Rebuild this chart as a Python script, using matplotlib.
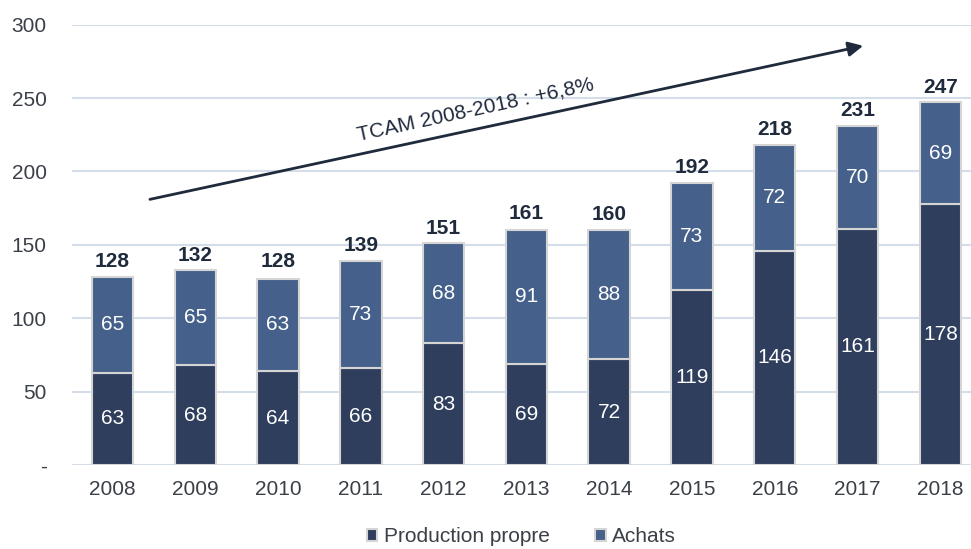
import numpy as np
import matplotlib.pyplot as plt

years = ['2008', '2009', '2010', '2011', '2012', '2013', '2014', '2015', '2016', '2017', '2018']
production = [63, 68, 64, 66, 83, 69, 72, 119, 146, 161, 178]
achats = [65, 65, 63, 73, 68, 91, 88, 73, 72, 70, 69]
totals = [128, 132, 128, 139, 151, 161, 160, 192, 218, 231, 247]

plt.rcParams['font.family'] = ['Liberation Sans', 'DejaVu Sans']

dark = '#2E3E5C'
light = '#45608A'
txt = '#3A3F48'
fs = 15

fig = plt.figure(figsize=(9.71, 5.49), dpi=100)
ax = fig.add_axes([0.074, 0.153, 0.926, 0.802])

x = np.arange(len(years))
w = 0.5
ax.bar(x, production, w, color=dark, edgecolor='#D5D5D5', linewidth=1.5, label='Production propre', zorder=3)
ax.bar(x, achats, w, bottom=production, color=light, edgecolor='#D5D5D5', linewidth=1.5, label='Achats', zorder=3)

for i in range(len(years)):
    ax.text(x[i], production[i] / 2, str(production[i]), ha='center', va='center', color='white', fontsize=fs, zorder=4)
    ax.text(x[i], production[i] + achats[i] / 2, str(achats[i]), ha='center', va='center', color='white', fontsize=fs, zorder=4)
    ax.text(x[i], totals[i] + 4, str(totals[i]), ha='center', va='bottom', color='#1F2A3C', fontsize=fs, fontweight='bold', zorder=4)

# growth arrow
ax.annotate('', xy=(9.1, 286), xytext=(0.42, 180.6),
            arrowprops=dict(arrowstyle='-|>', color='#1F2A3C', lw=2, mutation_scale=22), zorder=5)
ax.text(4.38, 242, 'TCAM 2008-2018 : +6,8%', rotation=12.2, ha='center', va='center',
        fontsize=fs, color='#1F2A3C', rotation_mode='anchor')

ax.set_ylim(0, 300)
ax.set_xlim(-0.49, 10.37)
ax.set_yticks([0, 50, 100, 150, 200, 250, 300])
ax.set_yticklabels(['-', '50', '100', '150', '200', '250', '300'])
ax.set_xticks(x)
ax.set_xticklabels(years)
ax.tick_params(axis='both', length=0, labelsize=fs, labelcolor=txt)
ax.tick_params(axis='x', pad=11)
ax.tick_params(axis='y', pad=18)
ax.grid(axis='y', color='#D3DEEA', linewidth=1.5, zorder=0)
for s in ax.spines.values():
    s.set_visible(False)

ax.legend(loc='center', bbox_to_anchor=(0.5, -0.163), ncol=2, frameon=False,
          fontsize=fs, handlelength=0.5, handleheight=0.5, handletextpad=0.3,
          columnspacing=2.2, labelcolor=txt, borderpad=0)

fig.savefig('out.png', dpi=100)
